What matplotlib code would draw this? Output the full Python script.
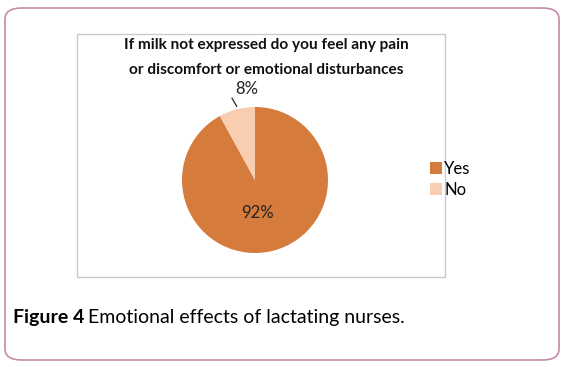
import matplotlib.pyplot as plt
from matplotlib.patches import FancyBboxPatch, Rectangle

# Data
labels = ['Yes', 'No']
values = [92, 8]
colors = ['#D57B3B', '#F8CDB0']

title = 'If milk not expressed do you feel any pain\nor discomfort or emotional disturbances'
W, H = 565, 367
FONT = 'Lato'

fig = plt.figure(figsize=(W / 100, H / 100), dpi=100)
fig.patch.set_facecolor('white')

# outer rounded frame
frame = FancyBboxPatch((5 / W, 7 / H), 554 / W, 352 / H,
                       boxstyle='round,pad=0,rounding_size=0.03',
                       transform=fig.transFigure, fill=False,
                       edgecolor='#C48BA8', linewidth=1.2)
fig.patches.append(frame)

# inner chart box
box = Rectangle((77 / W, (H - 277) / H), 368 / W, 243 / H,
                transform=fig.transFigure, fill=False,
                edgecolor='#CCCCCC', linewidth=1.0)
fig.patches.append(box)

fig.text(266 / W, (H - 57.5) / H, title, ha='center', va='center',
         fontsize=11.1, fontweight='bold', family=FONT,
         linespacing=2.0, color='#111111')

# pie
cx, cy, r = 255, 180, 73
ax = fig.add_axes([(cx - r) / W, (H - cy - r) / H, 2 * r / W, 2 * r / H])
wedges, _ = ax.pie(values, colors=colors, startangle=90, counterclock=False,
                   radius=1, wedgeprops=dict(linewidth=0))
ax.set_xlim(-1, 1)
ax.set_ylim(-1, 1)
ax.set_aspect('equal')
ax.axis('off')

ax.text(0.04, -0.45, f'{values[0]}%', ha='center', va='center',
        fontsize=12, family=FONT, color='#222222')
ax.text(-0.11, 1.24, f'{values[1]}%', ha='center', va='center',
        fontsize=12, family=FONT, color='#222222', clip_on=False)
ax.plot([-0.315, -0.25], [1.12, 1.01], color='#222222', lw=0.9, clip_on=False)

# legend
leg = fig.legend(wedges, labels, loc='center left',
                 bbox_to_anchor=(415 / W, (H - 179) / H), frameon=False,
                 handlelength=0.7, handleheight=0.7, handletextpad=0.15,
                 labelspacing=0.3, prop=dict(family=FONT, size=12))

# caption
t1 = fig.text(13 / W, (H - 318) / H, 'Figure 4', fontsize=14,
              fontweight='bold', family=FONT, va='center')
fig.canvas.draw()
bb = t1.get_window_extent()
fig.text((bb.x1 + 4) / W, (H - 318) / H, 'Emotional effects of lactating nurses.',
         fontsize=14, family=FONT, va='center')

fig.savefig('out.png', dpi=100)
